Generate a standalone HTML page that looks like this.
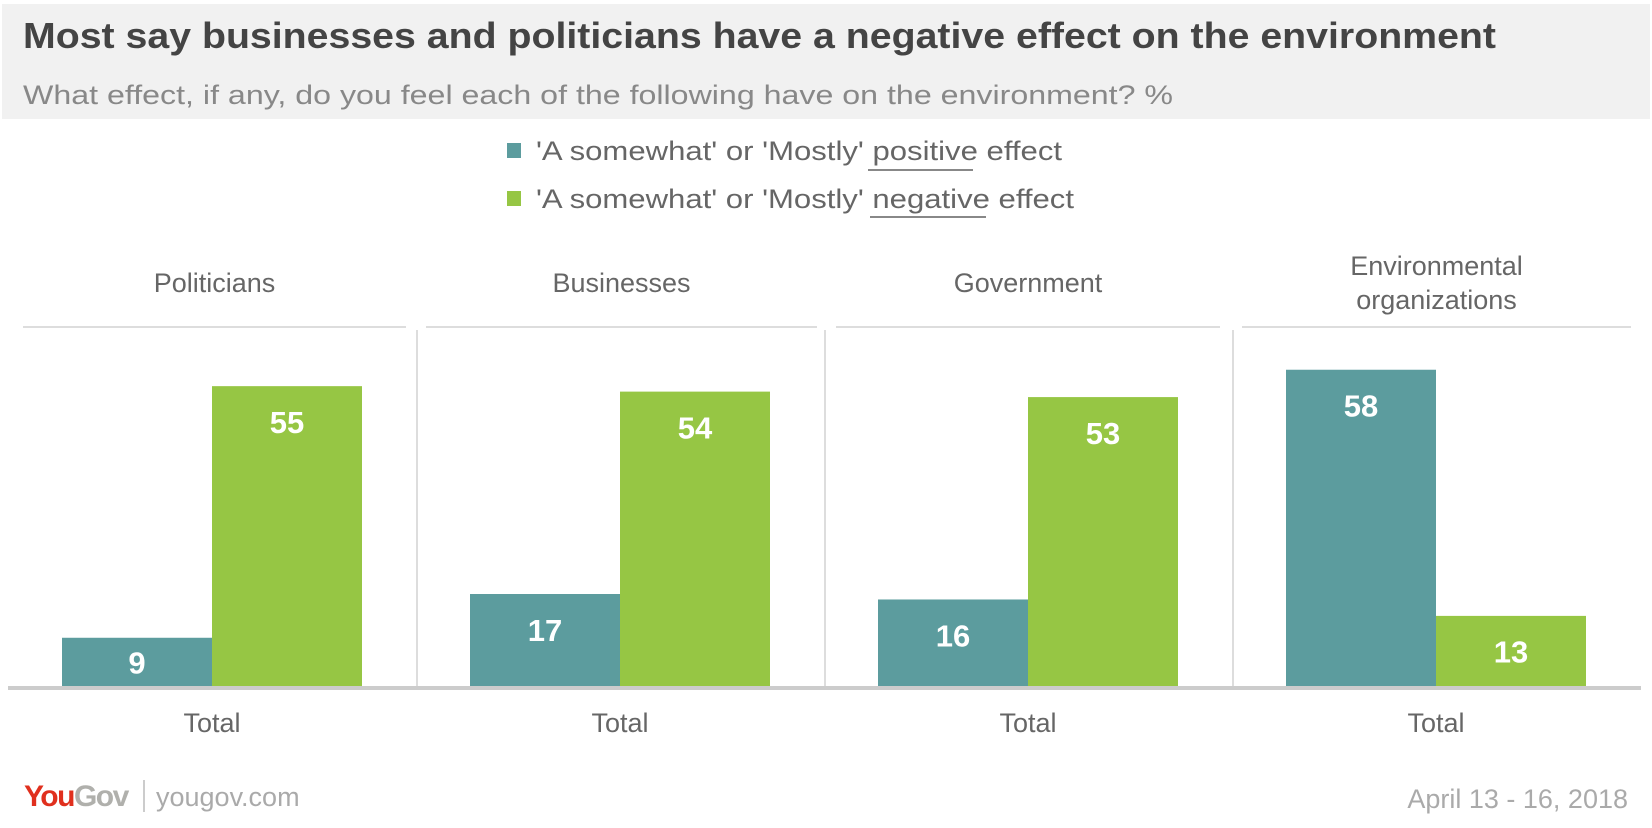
<!DOCTYPE html>
<html><head><meta charset="utf-8"><style>
html,body{margin:0;padding:0;background:#fff;}
svg{display:block;font-family:"Liberation Sans",sans-serif;}
</style></head><body>
<svg id="chart" width="1652" height="828" viewBox="0 0 1652 828">
<rect x="2" y="4" width="1648" height="115" fill="#f1f1f1"/>
<text x="23" y="48" font-size="36" font-weight="bold" fill="#444" textLength="1473" lengthAdjust="spacingAndGlyphs">Most say businesses and politicians have a negative effect on the environment</text>
<text x="23" y="104" font-size="27" fill="#888" textLength="1150" lengthAdjust="spacingAndGlyphs">What effect, if any, do you feel each of the following have on the environment? %</text>
<g>
<rect x="507" y="143" width="14" height="15" fill="#5c9c9e"/>
<text x="536" y="160" font-size="27" fill="#666" textLength="526" lengthAdjust="spacingAndGlyphs">'A somewhat' or 'Mostly' positive effect</text>
<line x1="868" y1="170" x2="973" y2="170" stroke="#888" stroke-width="2"/>
<rect x="507" y="191" width="14" height="15" fill="#96c644"/>
<text x="536" y="208" font-size="27" fill="#666" textLength="538" lengthAdjust="spacingAndGlyphs">'A somewhat' or 'Mostly' negative effect</text>
<line x1="870" y1="217" x2="986" y2="217" stroke="#888" stroke-width="2"/>
</g>
<g id="plot"></g>
<g>
<text x="24" y="806" font-size="30" font-weight="bold" letter-spacing="-1.5"><tspan fill="#e0301e">You</tspan><tspan fill="#b0b0ac">Gov</tspan></text>
<line x1="144" y1="780" x2="144" y2="812" stroke="#bbb" stroke-width="1.5"/>
<text x="156" y="806" font-size="27" fill="#aaa">yougov.com</text>
<text x="1628" y="808" font-size="27" fill="#aaa" text-anchor="end">April 13 - 16, 2018</text>
</g>
</svg>
<script>
const categories = ["Politicians","Businesses","Government","Environmental organizations"];
const positiveValues = [9,17,16,58];
const negativeValues = [55,54,53,13];
const NS="http://www.w3.org/2000/svg";
const plot=document.getElementById('plot');
const baseY=687, pxPerUnit=5.47, groupW=408, left=8;
function y(v){return baseY-v*pxPerUnit;}
function groupCenter(i){return left+groupW*i+groupW/2;}
function mk(tag,attrs){const e=document.createElementNS(NS,tag);for(const k in attrs)e.setAttribute(k,attrs[k]);plot.appendChild(e);return e;}
const headerSegs=[[23,406],[426,817],[836,1220],[1242,1631]];
categories.forEach((c,i)=>{
  const cx=groupCenter(i);
  const seg=headerSegs[i];
  const hl=mk('line',{x1:seg[0],y1:327,x2:seg[1],y2:327,stroke:'#ddd','stroke-width':2});
  
  
  const words=c==="Environmental organizations"?["Environmental","organizations"]:[c];
  words.forEach((w,j)=>{
    const t=mk('text',{x:(seg[0]+seg[1])/2,y:words.length>1?275+j*34:292,'font-size':27,fill:'#666','text-anchor':'middle'});
    t.textContent=w;
    
    
  });
  if(i>0){
    const vl=mk('line',{x1:left+groupW*i+1,y1:330,x2:left+groupW*i+1,y2:baseY,stroke:'#ddd','stroke-width':2});
    
    
  }
  const bw=150;
  [[positiveValues[i],'#5c9c9e',cx-bw,'bar-positive'],[negativeValues[i],'#96c644',cx,'bar-negative']].forEach(([v,col,x,nm])=>{
    const top=y(v), h=baseY-top;
    const r=mk('rect',{x:x,y:top,width:bw,height:h,fill:col});
    
    
    const t=mk('text',{x:x+bw/2,y:top+Math.min(36,h/2)+11,'font-size':31,'font-weight':'bold',fill:'#fff','text-anchor':'middle'});
    t.textContent=v;
    
    
  });
  const tl=mk('text',{x:cx,y:732,'font-size':27,fill:'#666','text-anchor':'middle'});
  tl.textContent='Total';
  
  
});
const base=mk('line',{x1:8,y1:baseY+1,x2:1641,y2:baseY+1,stroke:'#ccc','stroke-width':4});


</script>
</body></html>
